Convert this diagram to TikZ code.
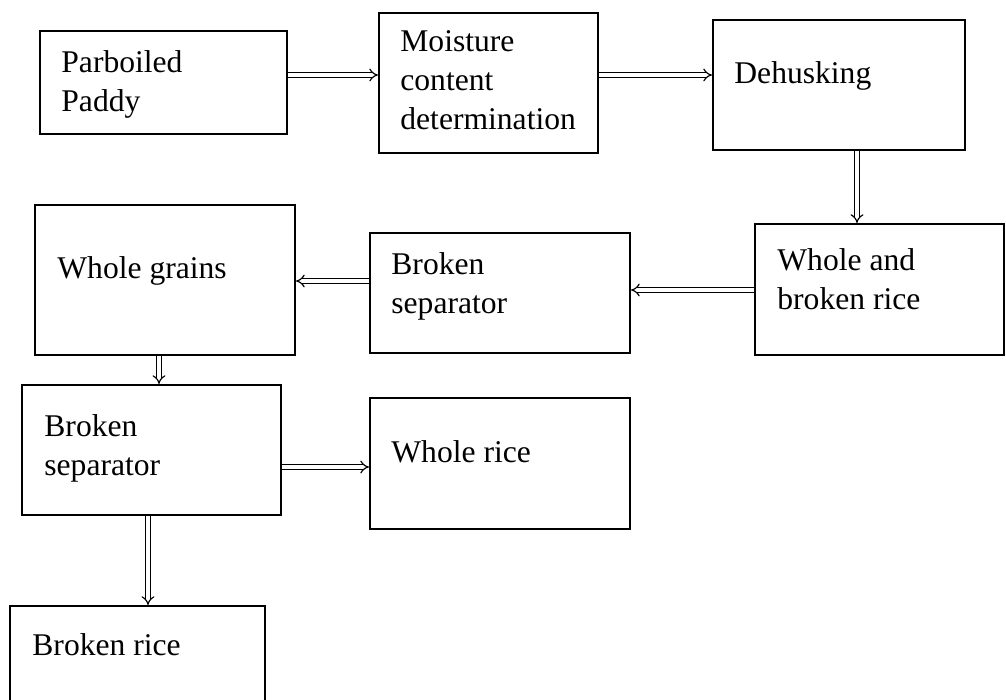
\documentclass[tikz,border=0pt]{standalone}
\usepackage{fontspec}
\setmainfont{Liberation Serif}
\usetikzlibrary{arrows.meta,positioning,calc}

\begin{document}
\begin{tikzpicture}[
    x=0.5pt, y=-0.5pt,
    box/.style={rectangle, draw=black, line width=1pt, inner sep=0pt},
    txt/.style={anchor=north west, inner sep=0pt, align=left, font=\fontsize{15.8}{19.5}\selectfont},
    flow/.style={double, double distance=1.6pt, line width=0.6pt, -{Implies}}
]
\useasboundingbox (0,0) rectangle (1006,700);

% Boxes
\node[box, minimum width=123.5pt, minimum height=51.5pt] (paddy) at (163.5,82.5) {};
\node[box, minimum width=109.5pt, minimum height=70pt] (moist) at (488.5,83) {};
\node[box, minimum width=126pt, minimum height=65pt] (dehusk) at (839,85) {};
\node[box, minimum width=124.5pt, minimum height=65.5pt] (mix) at (879.5,289.5) {};
\node[box, minimum width=130pt, minimum height=60pt] (sepa) at (500,293) {};
\node[box, minimum width=130pt, minimum height=75pt] (grains) at (165,280) {};
\node[box, minimum width=129.5pt, minimum height=65pt] (sepb) at (151.5,450) {};
\node[box, minimum width=130pt, minimum height=65.5pt] (wrice) at (500,463.5) {};
\node[box, minimum width=127.5pt, minimum height=57pt] (brice) at (137.5,663) {};

% Texts
\node[txt] (paddy-t) at (61,50) {Parboiled\\Paddy};
\node[txt] (moist-t) at (400,30) {Moisture\\content\\determination};
\node[txt] (dehusk-t) at (734,61) {Dehusking};
\node[txt] (mix-t) at (777,248) {Whole and\\broken rice};
\node[txt] (sepa-t) at (391,252) {Broken\\separator};
\node[txt] (grains-t) at (57,256) {Whole grains};
\node[txt] (sepb-t) at (44,414) {Broken\\separator};
\node[txt] (wrice-t) at (391,440) {Whole rice};
\node[txt] (brice-t) at (32,633) {Broken rice};

% Arrows
\draw[flow] (paddy.east |- 0,75) -- (moist.west |- 0,75);
\draw[flow] (moist.east |- 0,75) -- (dehusk.west |- 0,75);
\draw[flow] (dehusk.south -| 857,0) -- (mix.north -| 857,0);
\draw[flow] (mix.west |- 0,290) -- (sepa.east |- 0,290);
\draw[flow] (sepa.west |- 0,281) -- (grains.east |- 0,281);
\draw[flow] (grains.south -| 159,0) -- (sepb.north -| 159,0);
\draw[flow] (sepb.east |- 0,467) -- (wrice.west |- 0,467);
\draw[flow] (sepb.south -| 148,0) -- (brice.north -| 148,0);

\end{tikzpicture}
\end{document}
